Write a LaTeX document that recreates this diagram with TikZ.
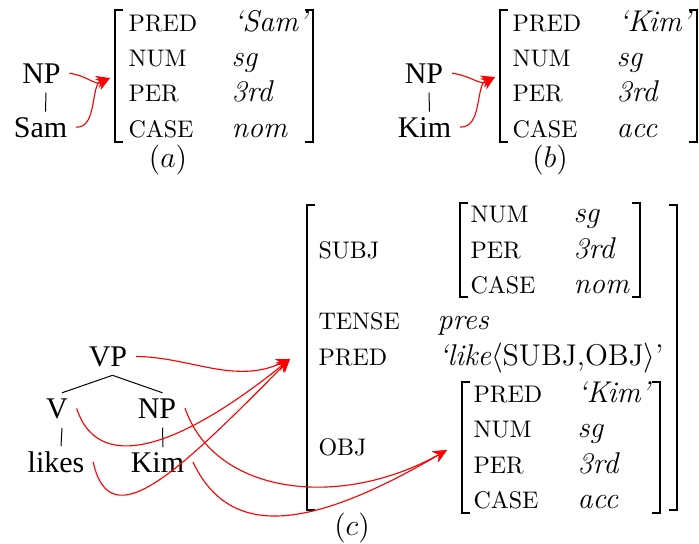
\documentclass[tikz,border=0pt]{standalone}
\usepackage{fontspec}
\newfontfamily\treefont{Liberation Serif}
\usetikzlibrary{arrows.meta}

% units: one step is 0.4pt, y grows downwards
\tikzset{
  every picture/.style={x=0.4pt,y=-0.4pt},
  tree/.style={font=\treefont\fontsize{12}{14}\selectfont, anchor=base},
  attr/.style={font=\fontsize{9.6}{11}\selectfont, anchor=base west, inner sep=0pt},
  val/.style={font=\fontsize{12}{14}\selectfont\itshape, anchor=base west, inner sep=0pt},
  caption/.style={font=\fontsize{12}{14}\selectfont, anchor=base},
  branch/.style={line width=0.4pt},
  avm/.style={line width=0.9pt},
  link/.style={red, line width=0.45pt, -{Stealth[length=5.5pt,width=5pt,inset=1.8pt]}},
}

% square brackets of an attribute-value matrix: left, top, right, bottom
\newcommand\avmbrackets[4]{%
  \draw[avm] (#1+8,#2) -- (#1,#2) -- (#1,#4) -- (#1+8,#4);
  \draw[avm] (#3-8,#2) -- (#3,#2) -- (#3,#4) -- (#3-8,#4);
}

\begin{document}
\begin{tikzpicture}
\useasboundingbox (0,0) rectangle (699,543);

% ---------- (a) NP over Sam ----------
\node[tree] (npA)  at (41.5,83)  {NP};
\node[tree] (samA) at (40.5,137) {Sam};
\draw[branch] ([xshift=1.8pt,yshift=-0.3pt]npA.south) -- ([xshift=2pt,yshift=-1.3pt]samA.north);

\avmbrackets{115}{10}{313}{142}
\node[attr] (predA) at (128,31)  {PRED};
\node[attr] (numA)  at (128,66)  {NUM};
\node[attr] (perA)  at (128,101) {PER};
\node[attr] (caseA) at (128,137) {CASE};
\node[val]  (vpredA) at (233,31)  {‘Sam’};
\node[val]  (vnumA)  at (231,66)  {sg};
\node[val]  (vperA)  at (231,101) {3rd};
\node[val]  (vcaseA) at (231,137) {nom};
\node[caption] (capA) at (168,167) {$(a)$};

\coordinate (tipA) at (110,78);
\draw[link] (npA.east)  .. controls (88,76) and (95,86) .. (tipA);
\draw[link] (samA.east) .. controls (98,128) and (90,84) .. (tipA);

% ---------- (b) NP over Kim ----------
\node[tree] (npB)  at (424,83)    {NP};
\node[tree] (kimB) at (424.5,137) {Kim};
\draw[branch] ([xshift=2pt,yshift=-0.3pt]npB.south) -- ([xshift=2pt,yshift=-1.3pt]kimB.north);

\avmbrackets{500}{10}{697}{142}
\node[attr] (predB) at (512,31)  {PRED};
\node[attr] (numB)  at (512,66)  {NUM};
\node[attr] (perB)  at (512,101) {PER};
\node[attr] (caseB) at (512,137) {CASE};
\node[val]  (vpredB) at (618,31)  {‘Kim’};
\node[val]  (vnumB)  at (616,66)  {sg};
\node[val]  (vperB)  at (616,101) {3rd};
\node[val]  (vcaseB) at (616,137) {acc};
\node[caption] (capB) at (550,167) {$(b)$};

\coordinate (tipB) at (495,77);
\draw[link] (npB.east)  .. controls (472,76) and (480,86) .. (tipB);
\draw[link] (kimB.east) .. controls (483,128) and (475,84) .. (tipB);

% ---------- (c) VP tree ----------
\node[tree] (vp)    at (108,366)   {VP};
\node[tree] (v)     at (57,418)    {V};
\node[tree] (npC)   at (157,418)   {NP};
\node[tree] (likes) at (56,472)    {likes};
\node[tree] (kimC)  at (157.5,472) {Kim};
\draw[branch] ([xshift=1.8pt]vp.south) -- ([xshift=2pt,yshift=-1.3pt]v.north);
\draw[branch] ([xshift=1.8pt]vp.south) -- ([xshift=2.2pt,yshift=-1.3pt]npC.north);
\draw[branch] ([xshift=2pt,yshift=-0.3pt]v.south)   -- ([xshift=2pt,yshift=-1.5pt]likes.north);
\draw[branch] ([xshift=2.2pt,yshift=-0.3pt]npC.south) -- ([xshift=2.2pt,yshift=-1.5pt]kimC.north);

% outer f-structure
\avmbrackets{307}{205}{677}{510}
\node[attr] (subjC)  at (318,258) {SUBJ};
\node[attr] (tenseC) at (318,329) {TENSE};
\node[attr] (predC)  at (318,365) {PRED};
\node[attr] (objC)   at (318,455) {OBJ};
\node[val]  (vtenseC) at (437,329) {pres};
\node[val]  (vpredC)  at (438,365) {‘like$\langle$\upshape SUBJ,OBJ$\rangle$’};

% subject f-structure
\avmbrackets{460}{203}{640}{297}
\node[attr] (snum)  at (470,222) {NUM};
\node[attr] (sper)  at (470,258) {PER};
\node[attr] (scase) at (470,293) {CASE};
\node[val]  (vsnum)  at (573,222) {sg};
\node[val]  (vsper)  at (573,258) {3rd};
\node[val]  (vscase) at (573,293) {nom};

% object f-structure
\avmbrackets{462}{382}{660}{513}
\node[attr] (opred) at (473,402) {PRED};
\node[attr] (onum)  at (473,437) {NUM};
\node[attr] (oper)  at (473,473) {PER};
\node[attr] (ocase) at (473,508) {CASE};
\node[val]  (vopred) at (577,402) {‘Kim’};
\node[val]  (vonum)  at (577,437) {sg};
\node[val]  (voper)  at (577,473) {3rd};
\node[val]  (vocase) at (577,508) {acc};

\node[caption] (capC) at (352,535) {$(c)$};

\coordinate (tipC) at (290,359);
\coordinate (tipD) at (447,450);
\draw[link] (vp.east)    .. controls (190,357) and (235,385) .. (tipC);
\draw[link] (v.east)     .. controls (100,480) and (190,440) .. (tipC);
\draw[link] (likes.east) .. controls (110,540) and (180,470) .. (tipC);
\draw[link] (npC.east)   .. controls (215,495) and (340,510) .. (tipD);
\draw[link] (kimC.east)  .. controls (230,540) and (310,530) .. (tipD);
\end{tikzpicture}
\end{document}
